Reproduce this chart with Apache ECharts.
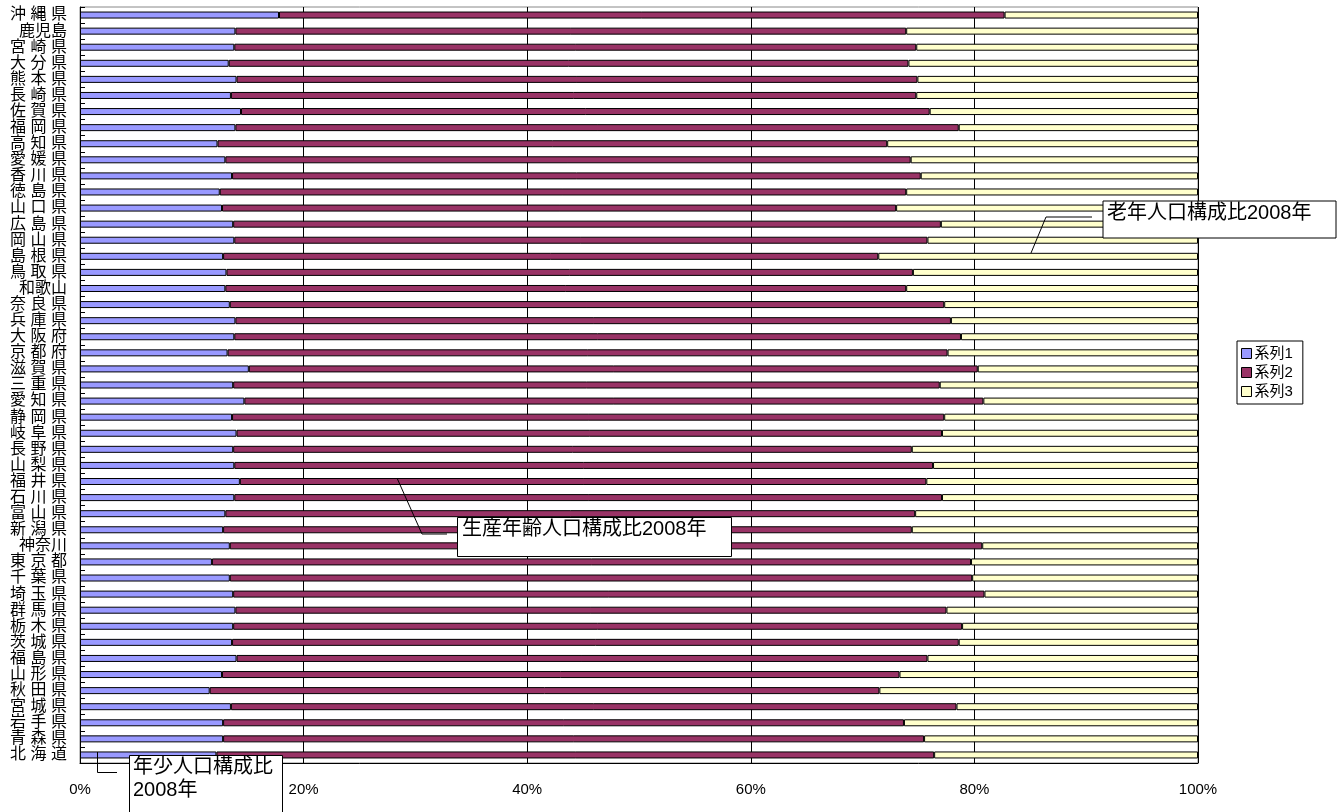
<!DOCTYPE html>
<html>
<head>
<meta charset="utf-8">
<script src="https://cdn.jsdelivr.net/npm/echarts@6/dist/echarts.min.js"></script>
<style>html,body{margin:0;padding:0;background:#fff}#c{width:1338px;height:812px}</style>
</head>
<body>
<div id="c"></div>
<script>
// categories, bottom (北海道) to top (沖縄県)
const categories = ["北 海 道","青 森 県","岩 手 県","宮 城 県","秋 田 県","山 形 県","福 島 県","茨 城 県","栃 木 県","群 馬 県","埼 玉 県","千 葉 県","東 京 都","神奈川","新 潟 県","富 山 県","石 川 県","福 井 県","山 梨 県","長 野 県","岐 阜 県","静 岡 県","愛 知 県","三 重 県","滋 賀 県","京 都 府","大 阪 府","兵 庫 県","奈 良 県","和歌山","鳥 取 県","島 根 県","岡 山 県","広 島 県","山 口 県","徳 島 県","香 川 県","愛 媛 県","高 知 県","福 岡 県","佐 賀 県","長 崎 県","熊 本 県","大 分 県","宮 崎 県","鹿児島","沖 縄 県"];
const seriesNames = ["系列1","系列2","系列3"];
// 年少人口構成比 (%)
const series1 = [12.2,12.8,12.8,13.5,11.6,12.7,14.0,13.6,13.7,13.9,13.7,13.4,11.8,13.4,12.8,13.0,13.8,14.3,13.8,13.7,14.0,13.6,14.7,13.7,15.1,13.2,13.8,13.9,13.4,13.0,13.1,12.8,13.8,13.7,12.7,12.5,13.6,13.0,12.3,13.9,14.4,13.5,14.0,13.3,13.8,13.9,17.8];
// 生産年齢人口構成比 (%)
const series2 = [64.2,62.7,60.9,64.9,59.9,60.6,61.8,65.0,65.2,63.6,67.2,66.4,67.9,67.3,61.6,61.7,63.3,61.4,62.5,60.7,63.1,63.7,66.1,63.2,65.2,64.4,65.0,64.0,63.9,60.9,61.4,58.6,62.0,63.3,60.3,61.4,61.6,61.3,59.9,64.7,61.6,61.3,60.9,60.8,61.0,60.0,64.9];
// 老年人口構成比 (%)
const series3 = [23.6,24.5,26.3,21.6,28.5,26.7,24.2,21.4,21.1,22.5,19.1,20.2,20.3,19.3,25.6,25.3,22.9,24.3,23.7,25.6,22.9,22.7,19.2,23.1,19.7,22.4,21.2,22.1,22.7,26.1,25.5,28.6,24.2,23.0,27.0,26.1,24.8,25.7,27.8,21.4,24.0,25.2,25.1,25.9,25.2,26.1,17.3];
const colors = ["#9999FF","#993366","#FFFFCC"];
const callouts = ["年少人口構成比\n2008年","生産年齢人口構成比2008年","老年人口構成比2008年"];

const FONT = 'Arial, "Liberation Sans", "Noto Sans CJK JP", sans-serif';
const chart = echarts.init(document.getElementById('c'));
const seriesData = [series1, series2, series3];

const boxStyle = {fill:'#fff', stroke:'#000', lineWidth:1};
const lineStyle = {stroke:'#000', lineWidth:1, fill:null};
const txt = (x,y,t)=>({type:'text', left:x, top:y, z:100, style:{text:t, font:'20px ' + FONT, fill:'#000', lineHeight:23}});

chart.setOption({
  animation:false,
  textStyle:{fontFamily:FONT},
  grid:{left:80, right:140, top:7, bottom:49, show:true, borderColor:'#888', borderWidth:1, containLabel:false},
  legend:{
    orient:'vertical', left:1237, top:341, data:seriesNames,
    itemWidth:10, itemHeight:10, itemGap:4, icon:'rect',
    padding:[5,10,5,4], borderColor:'#000', borderWidth:1,
    itemStyle:{borderColor:'#000', borderWidth:1},
    textStyle:{fontSize:15, color:'#000', fontFamily:FONT, padding:[0,0,0,-2]}
  },
  xAxis:{
    type:'value', min:0, max:100, interval:20,
    axisLine:{show:true, lineStyle:{color:'#000'}},
    axisTick:{show:false},
    axisLabel:{formatter:'{value}%', fontSize:15, color:'#000', margin:19, fontFamily:FONT},
    splitLine:{show:true, lineStyle:{color:'#000', width:1}}
  },
  yAxis:{
    type:'category', data:categories,
    axisLine:{show:true, lineStyle:{color:'#000'}},
    axisTick:{show:true, inside:true, length:5, lineStyle:{color:'#000'}},
    axisLabel:{fontSize:16, color:'#000', margin:13, interval:0, fontFamily:FONT},
    splitLine:{show:false}
  },
  series: seriesNames.map((n,i)=>({
    name:n, type:'bar', stack:'total', data:seriesData[i], barWidth:7,
    itemStyle:{color:colors[i], borderColor:'#000', borderWidth:1}
  })),
  graphic:[
    // 老年 callout
    {type:'polyline', z:100, shape:{points:[[1092,217],[1046,217],[1031,253]]}, style:lineStyle},
    {type:'rect', z:99, shape:{x:1103, y:201, width:233, height:37}, style:boxStyle},
    txt(1107, 202, callouts[2]),
    // 生産 callout
    {type:'polyline', z:100, shape:{points:[[397,478],[422,534],[447,534]]}, style:lineStyle},
    {type:'rect', z:99, shape:{x:457.5, y:517.5, width:274, height:39}, style:boxStyle},
    txt(462, 518, callouts[1]),
    // 年少 callout
    {type:'polyline', z:100, shape:{points:[[97.5,752],[97.5,772.5],[117,772.5]]}, style:lineStyle},
    {type:'rect', z:99, shape:{x:129.5, y:755.5, width:153, height:70}, style:boxStyle},
    txt(133, 756, callouts[0])
  ]
});
</script>
</body>
</html>
